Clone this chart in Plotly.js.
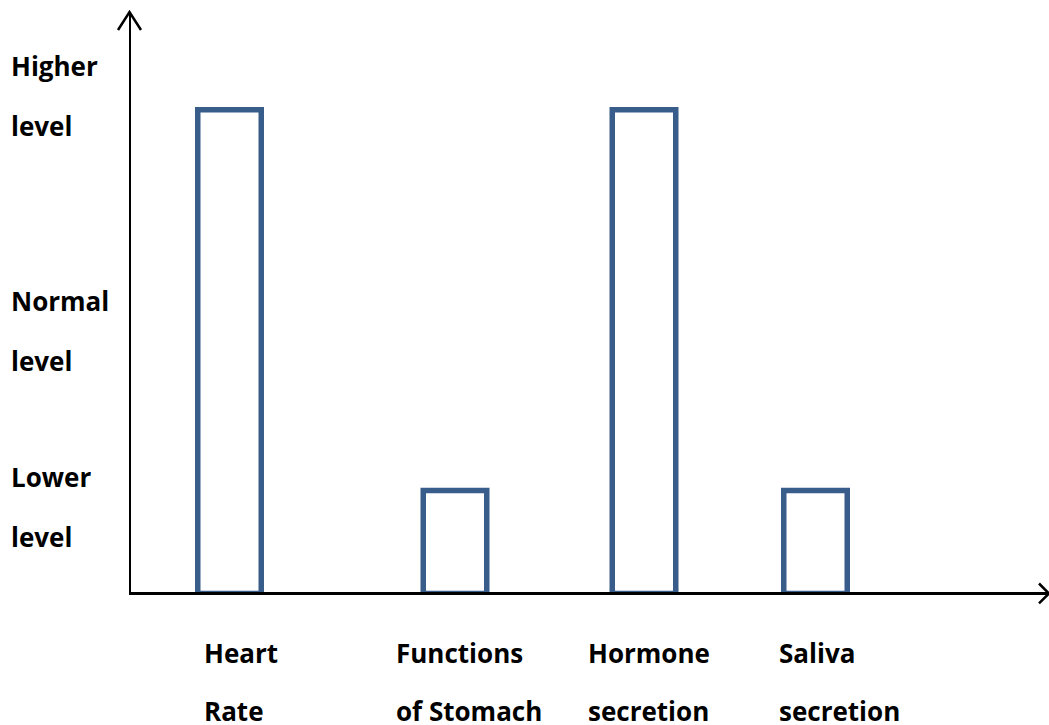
<!DOCTYPE html>
<html>
<head>
<meta charset="utf-8">
<script src="https://cdn.plot.ly/plotly-3.0.1.min.js"></script>
<style>html,body{margin:0;padding:0;background:#fff;}#chart{width:1049px;height:725px;}</style>
</head>
<body>
<div id="chart"></div>
<script>
// ---- data ----
const categories = ["Heart<br>Rate", "Functions<br>of Stomach", "Hormone<br>secretion", "Saliva<br>secretion"];
const levelValues = [4.7, 1.0, 4.7, 1.0];
const levelLabels = ["Higher<br>level", "Normal<br>level", "Lower<br>level"];

// ---- layout geometry (pixels) ----
const W = 1049, H = 725;
const L = 131, R = 0, T = 12, B = 132.5;
const plotW = W - L - R, plotH = H - T - B;
const X0 = 129, Y0 = 594;                          // pixel position of the axes' origin
const barX = [1.005, 3.26, 5.15, 6.865];          // bar centres in x-axis units
const xLabelLeft = [202, 394, 586, 777];          // pixel left edge of category labels
const xLabelBase = [663, 721];                    // baselines of the two label lines
const yLabelBase = [[76, 136], [311, 371], [487, 547]];
const yLabelLeft = 9;

const px = x => (x - L) / plotW;
const py = y => (H - B - y) / plotH;
const font = {family: "Open Sans, sans-serif", size: 26, color: "#000", weight: 700};

const annotations = [];
function addLines(text, left, bases) {
  text.split("<br>").forEach((line, i) => {
    annotations.push({
      text: "<b>" + line + "</b>", xref: "paper", yref: "paper",
      x: px(left), y: py(bases[i] - 9.5), xanchor: "left", yanchor: "middle",
      showarrow: false, font: font
    });
  });
}
categories.forEach((c, i) => addLines(c, xLabelLeft[i], xLabelBase));
levelLabels.forEach((c, i) => addLines(c, yLabelLeft, yLabelBase[i]));

const trace = {
  type: "bar",
  x: barX,
  y: levelValues,
  width: 0.635,
  marker: {color: "rgba(255,255,255,0)", line: {color: "#385D8A", width: 5.5}},
  hoverinfo: "skip"
};

const shapes = [
  {type: "path", xref: "paper", yref: "paper",
   path: `M ${px(118)} ${py(30)} L ${px(129.5)} ${py(12)} L ${px(141)} ${py(30)}`,
   line: {color: "#000", width: 2.5}},
  {type: "path", xref: "paper", yref: "paper",
   path: `M ${px(1039)} ${py(584)} L ${px(1049)} ${py(594)} L ${px(1039)} ${py(604)}`,
   line: {color: "#000", width: 2.5}}
];

const pxPerX = 100, pxPerY = 103;
const x0v = (L - X0) / pxPerX;
const y0v = (Y0 - (H - B)) / pxPerY;
const layout = {
  width: W, height: H,
  margin: {l: L, r: R, t: T, b: B, pad: 0},
  paper_bgcolor: "#fff", plot_bgcolor: "#fff",
  showlegend: false,
  xaxis: {range: [x0v, x0v + plotW / pxPerX], showgrid: false, zeroline: false,
          showticklabels: false, ticks: "", showline: true, linecolor: "#000", linewidth: 2.5, fixedrange: true},
  yaxis: {range: [y0v, y0v + plotH / pxPerY], showgrid: false, zeroline: false,
          showticklabels: false, ticks: "", showline: true, linecolor: "#000", linewidth: 2.5, fixedrange: true},
  annotations: annotations,
  shapes: shapes,
  hovermode: false
};

Plotly.newPlot("chart", [trace], layout, {displayModeBar: false, staticPlot: true});
</script>
</body>
</html>
